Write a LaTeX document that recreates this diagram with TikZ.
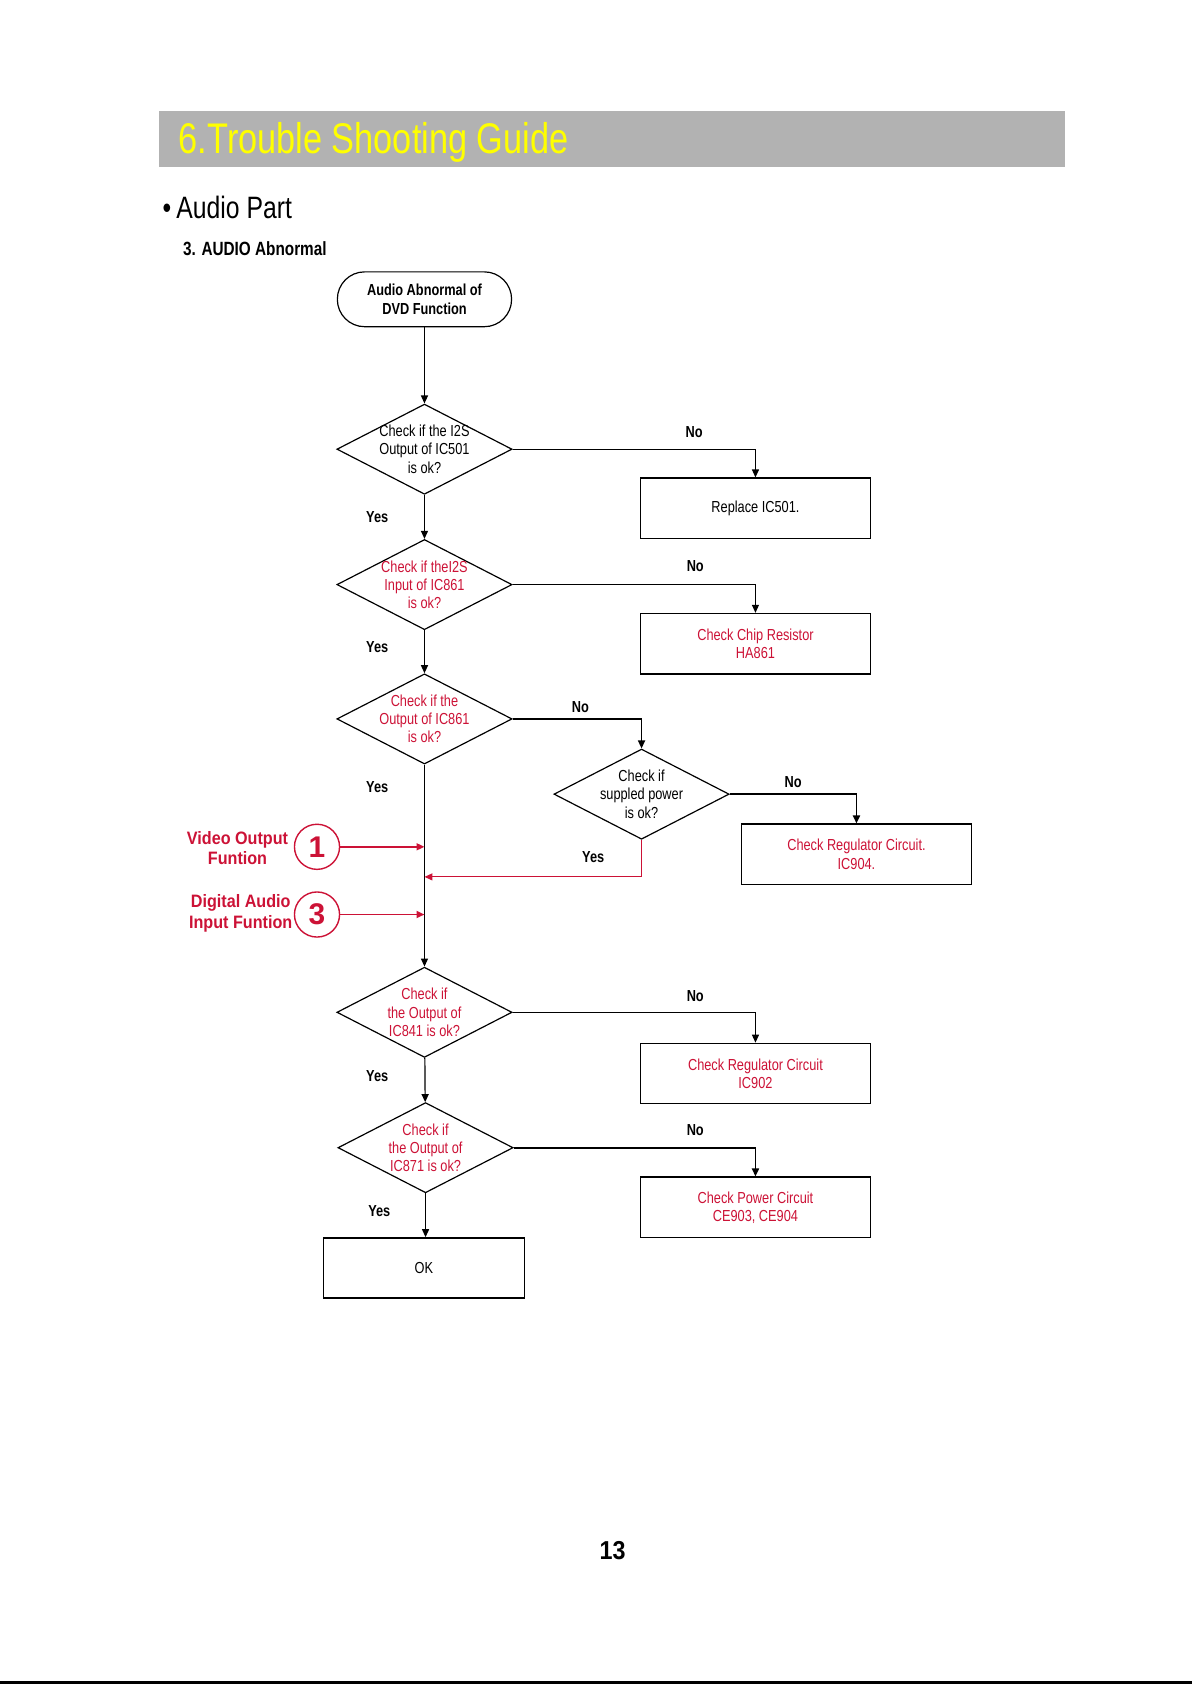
\documentclass[tikz,border=0pt]{standalone}
\usepackage{fontspec}
\setmainfont{Liberation Sans}
\newfontfamily\narrowfont[FakeStretch=0.8]{Liberation Sans}
\newfontfamily\semifont[FakeStretch=0.9]{Liberation Sans}
\usetikzlibrary{shapes.geometric}
\usetikzlibrary{arrows.meta}
\definecolor{hdrgray}{HTML}{B2B2B2}
\definecolor{hdryellow}{HTML}{FFFF00}
\definecolor{fnred}{HTML}{CC1236}

\begin{document}
\begin{tikzpicture}[x=0.018936cm,y=-0.018936cm,
  every node/.style={font=\narrowfont\fontsize{8}{9.1}\selectfont},
  term/.style={rectangle,rounded corners=0.48cm,draw,line width=0.6pt,minimum width=3.07cm,minimum height=0.966cm,align=center,font=\narrowfont\bfseries\fontsize{8}{9.4}\selectfont},
  dia/.style={diamond,draw,line width=0.6pt,minimum width=3.087cm,minimum height=1.59cm,inner sep=0pt},
  dq/.style={align=center,inner sep=0pt},
  box/.style={rectangle,draw,line width=0.8pt,minimum width=4.05cm,minimum height=1.06cm,align=center},
  lab/.style={font=\narrowfont\bfseries\fontsize{8}{9.6}\selectfont},
  arr/.style={-{Triangle[length=4pt,width=3.5pt]},line width=0.6pt},
  redarr/.style={arr,draw=fnred},
  numc/.style={circle,draw=fnred,line width=0.7pt,minimum size=0.795cm,inner sep=0pt,text=fnred,font=\bfseries\fontsize{15}{15}\selectfont},
  side/.style={align=center,text=fnred,font=\semifont\bfseries\fontsize{9}{10.3}\selectfont}]
\useasboundingbox (0,0) rectangle (1109,1568);

% page header
\fill[hdrgray] (148,103) rectangle (991,155);
\node[anchor=base west,inner sep=0pt,text=hdryellow,font=\narrowfont\fontsize{21.5}{24}\selectfont] (title) at (166,143) {6.Trouble Shooting Guide};
\node[anchor=base west,inner sep=0pt,font=\narrowfont\fontsize{15.5}{18}\selectfont] (part) at (151,203) {\textbullet\,Audio Part};
\node[anchor=base west,inner sep=0pt,font=\narrowfont\bfseries\fontsize{9.6}{11}\selectfont] (sect) at (170,238) {3. AUDIO Abnormal};

% flow
\node[term] (start) at (395,278.5) {Audio Abnormal of\\DVD Function};
\node[dia,label={[dq]center:Check if the I2S\\Output of IC501\\is ok?}] (q1) at (395,418) {};
\node[box] (r1) at (703,473) {Replace IC501.};
\node[dia,label={[dq,text=fnred]center:Check if theI2S\\Input of IC861\\is ok?}] (q2) at (395,544) {};
\node[box,text=fnred] (r2) at (703,599) {Check Chip Resistor\\HA861};
\node[dia,label={[dq,text=fnred]center:Check if the\\Output of IC861\\is ok?}] (q3) at (395,669) {};
\node[dia,label={[dq]center:Check if\\suppled power\\is ok?}] (q4) at (597,739) {};
\node[box,text=fnred] (r3) at (797,795) {Check Regulator Circuit.\\IC904.};
\node[dia,label={[dq,text=fnred]center:Check if\\the Output of\\IC841 is ok?}] (q5) at (395,942) {};
\node[box,text=fnred] (r4) at (703,999) {Check Regulator Circuit\\IC902};
\node[dia,label={[dq,text=fnred]center:Check if\\the Output of\\IC871 is ok?}] (q6) at (396,1068) {};
\node[box,text=fnred] (r5) at (703,1123.5) {Check Power Circuit\\CE903, CE904};
\node[box,minimum width=3.54cm] (ok) at (394.5,1180) {OK};

% extra inputs
\node[side] (vout) at (221,789) {Video Output\\Funtion};
\node[numc] (c1) at (295,788) {1};
\node[side] (dain) at (224,850) {Digital Audio\\Input Funtion};
\node[numc] (c3) at (295,851) {3};
\coordinate (j1) at (395,788);
\coordinate (j3) at (395,851);
\coordinate (j4) at (395,816);

% connectors
\draw[arr] (start) -- (q1);
\draw[arr] (q1) -- (q2);
\draw[arr] (q2) -- (q3);
\draw[arr] (q3) -- (q5);
\draw[arr] (q5) -- (q6);
\draw[arr] (q6.south) -- (q6.south |- ok.north);
\draw[arr] (q1.east) -| (r1.north);
\draw[arr] (q2.east) -| (r2.north);
\draw[arr,line width=0.9pt] (q3.east) -| (q4.north);
\draw[arr,line width=0.9pt] (q4.east) -| (r3.north);
\draw[arr] (q5.east) -| (r4.north);
\draw[arr,line width=0.9pt] (q6.east) -| (r5.north);
\draw[redarr] (q4.south) |- (j4);
\draw[redarr,line width=0.9pt] (c1) -- (j1);
\draw[redarr,line width=0.9pt] (c3) -- (j3);

% yes / no
\node[lab] at (646,402) {No};
\node[lab] at (647,527) {No};
\node[lab] at (540,658) {No};
\node[lab] at (738,728) {No};
\node[lab] at (647,927) {No};
\node[lab] at (647,1052) {No};
\node[lab] at (351,481) {Yes};
\node[lab] at (351,602) {Yes};
\node[lab] at (351,732) {Yes};
\node[lab] at (552,798) {Yes};
\node[lab] at (351,1001) {Yes};
\node[lab] at (353,1127) {Yes};

% footer
\node[font=\semifont\bfseries\fontsize{13}{15}\selectfont] (pg) at (570,1443) {13};
\draw[line width=1.2pt] (0,1565.5) -- (1109,1565.5);
\end{tikzpicture}
\end{document}
